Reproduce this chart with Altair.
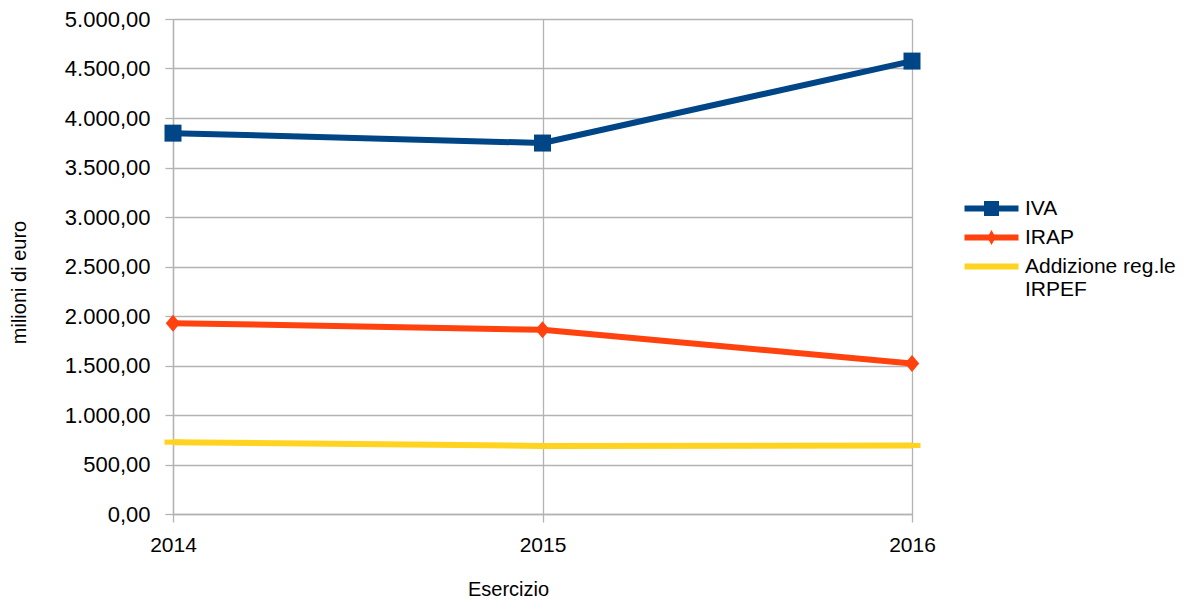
import altair as alt
import pandas as pd

anni = ["2014", "2015", "2016"]
serie = ["IVA", "IRAP", "Addizione reg.le IRPEF"]
iva = [3847, 3747, 4575]
irap = [1928, 1861, 1520]
addizione = [726, 688, 692]
colori = ["#004586", "#ff420e", "#ffd320"]
valori_y = [0, 500, 1000, 1500, 2000, 2500, 3000, 3500, 4000, 4500, 5000]

rows = []
for nome, valori in zip(serie, [iva, irap, addizione]):
    for anno, v in zip(anni, valori):
        rows.append({"Esercizio": anno, "valore": v, "serie": nome})
df = pd.DataFrame(rows)

FONT = "Liberation Sans"
GRID = "#b3b3b3"

color_scale = alt.Scale(domain=serie, range=colori)
# legend symbols: line segment with marker (unit = 10 px)
legend_paths = [
    "M-2.7,-0.3L2.7,-0.3L2.7,0.3L-2.7,0.3Z M-0.75,-0.75L0.75,-0.75L0.75,0.75L-0.75,0.75Z",
    "M-2.7,-0.3L2.7,-0.3L2.7,0.3L-2.7,0.3Z M0,-0.75L0.42,0L0,0.75L-0.42,0Z",
    "M-2.7,-0.3L2.7,-0.3L2.7,0.3L-2.7,0.3Z",
]
marker_shapes = {
    "IVA": "square",
    "IRAP": "M0,-1L0.85,0L0,1L-0.85,0Z",
    "Addizione reg.le IRPEF": "M-1,-0.3L1,-0.3L1,0.3L-1,0.3Z",
}

x_enc = alt.X(
    "Esercizio:N",
    scale=alt.Scale(type="point", padding=0, domain=anni),
    axis=alt.Axis(
        title="Esercizio", labelAngle=0, grid=True, gridColor=GRID, gridWidth=1.3,
        tickSize=8, tickColor=GRID, tickWidth=1.3, domainColor=GRID, domainWidth=1.3,
        labelFontSize=21, labelFont=FONT, labelColor="#000000", labelPadding=12,
        titleFontSize=20, titleFont=FONT, titleFontWeight="normal", titleColor="#000000",
        titleX=335, titleY=75, titleBaseline="middle", titleAlign="center",
    ),
)
y_enc = alt.Y(
    "valore:Q",
    scale=alt.Scale(domain=[0, 5000], nice=False, zero=True),
    axis=alt.Axis(
        title="milioni di euro", values=valori_y,
        labelExpr="replace(replace(replace(format(datum.value, ',.2f'), ',', '#'), '.', ','), '#', '.')",
        grid=True, gridColor=GRID, gridWidth=1.3,
        tickSize=8, tickColor=GRID, tickWidth=1.3, domainColor=GRID, domainWidth=1.3,
        labelFontSize=22, labelFont=FONT, labelColor="#000000", labelPadding=15,
        titleFontSize=20, titleFont=FONT, titleFontWeight="normal", titleColor="#000000",
        titleX=-154, titleY=263, titleAngle=270, titleBaseline="middle", titleAlign="center",
    ),
)

base = alt.Chart(df)

lines = base.mark_line(strokeWidth=6, strokeJoin="round").encode(
    x=x_enc, y=y_enc,
    color=alt.Color("serie:N", scale=color_scale, legend=None),
)

marker_layers = []
for nome in serie:
    marker_layers.append(
        base.transform_filter(alt.datum.serie == nome)
        .mark_point(shape=marker_shapes[nome], filled=True, size=289, opacity=1)
        .encode(x=x_enc, y=y_enc, color=alt.Color("serie:N", scale=color_scale, legend=None))
    )

leg = alt.Legend(
    title=None, orient="none", legendX=791, legendY=179, padding=0,
    labelFontSize=21, labelFont=FONT, labelColor="#000000",
    symbolOffset=17, labelOffset=23,
    symbolSize=400, symbolOpacity=1, symbolStrokeWidth=0, rowPadding=7,
    labelExpr="datum.label == 'Addizione reg.le IRPEF' ? ['Addizione reg.le', 'IRPEF'] : datum.label",
)
legend_layer = base.mark_point(filled=True, opacity=0, size=400).encode(
    x=x_enc, y=y_enc,
    color=alt.Color("serie:N", scale=color_scale, legend=leg),
    shape=alt.Shape("serie:N", scale=alt.Scale(domain=serie, range=legend_paths), legend=leg),
)

chart = alt.layer(lines, *marker_layers, legend_layer).resolve_legend(
    color="independent", shape="independent"
).properties(
    width=739, height=495,
    autosize=alt.AutoSizeParams(type="none"),
    padding={"left": 165, "top": 11, "right": 279, "bottom": 87},
    background="#ffffff",
).configure_view(stroke=None)

chart.save("out.html", embed_options={"renderer": "svg", "actions": False})
